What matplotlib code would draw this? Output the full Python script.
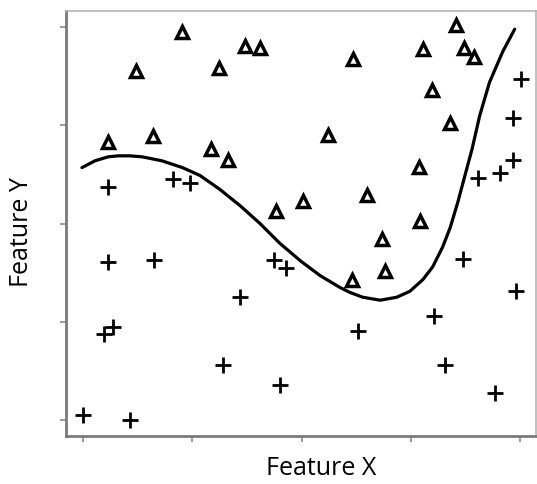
import matplotlib
matplotlib.use("Agg")
import matplotlib.pyplot as plt

# Class A (triangles)
tri_x = [0.23, 0.48, 0.64, 0.91, 1.24, 1.48, 1.62, 1.17, 1.33, 3.41, 3.11, 3.49, 3.58,
         2.47, 3.19, 3.36, 2.24, 3.07, 2.60, 2.01, 1.77, 3.08, 2.74, 2.76, 2.46]
tri_y = [2.83, 3.55, 2.89, 3.95, 3.58, 3.81, 3.79, 2.76, 2.65, 4.02, 3.78, 3.79, 3.70,
         3.68, 3.36, 3.02, 2.90, 2.58, 2.29, 2.23, 2.13, 2.03, 1.84, 1.52, 1.43]

# Class B (plus)
plus_x = [0.23, 0.82, 0.98, 4.01, 3.93, 3.93, 3.82, 3.61, 0.23, 0.65, 1.44, 0.19, 0.27,
          1.28, 0.00, 0.43, 1.75, 1.86, 3.48, 3.96, 3.21, 2.52, 3.31, 1.80, 3.77]
plus_y = [2.37, 2.45, 2.41, 3.47, 3.08, 2.65, 2.52, 2.46, 1.61, 1.63, 1.25, 0.88, 0.95,
          0.56, 0.05, 0.00, 1.63, 1.55, 1.64, 1.31, 1.06, 0.91, 0.56, 0.36, 0.27]

# Decision boundary
curve_x = [-0.01, 0.11, 0.23, 0.32, 0.43, 0.54, 0.72, 0.91, 1.07, 1.25, 1.44, 1.62, 1.80,
           1.99, 2.17, 2.35, 2.44, 2.56, 2.72, 2.87, 2.99, 3.11, 3.20, 3.29, 3.36, 3.43,
           3.49, 3.56, 3.63, 3.72, 3.84, 3.95]
curve_y = [2.57, 2.64, 2.68, 2.69, 2.69, 2.68, 2.64, 2.57, 2.49, 2.35, 2.18, 2.00, 1.80,
           1.62, 1.47, 1.35, 1.30, 1.25, 1.22, 1.25, 1.31, 1.43, 1.56, 1.76, 1.96, 2.22,
           2.47, 2.76, 3.10, 3.44, 3.75, 3.98]

ticks = [0, 1, 2, 3, 4]

fig = plt.figure(figsize=(5.37, 4.85), dpi=100)
ax = fig.add_axes([66 / 537, 1 - 437 / 485, 470 / 537, 425 / 485])

ax.plot(curve_x, curve_y, color="black", linewidth=2.3, solid_capstyle="round",
        solid_joinstyle="round", zorder=2)
ax.plot(tri_x, tri_y, linestyle="none", marker="^", markersize=8.5, markerfacecolor="white",
        markeredgecolor="black", markeredgewidth=2.5, zorder=3)
ax.plot(plus_x, plus_y, linestyle="none", marker="+", markersize=11, color="black",
        markeredgewidth=2.0, zorder=3)

ax.set_xlim(-0.156, 4.145)
ax.set_ylim(-0.163, 4.165)
ax.set_xticks(ticks)
ax.set_yticks(ticks)
ax.set_xticklabels([])
ax.set_yticklabels([])
ax.tick_params(direction="out", length=4, width=1.2, color="#8a8a8a")

for side in ["left", "bottom"]:
    ax.spines[side].set_color("#7a7a7a")
    ax.spines[side].set_linewidth(2)
for side in ["top", "right"]:
    ax.spines[side].set_color("#b5b5b5")
    ax.spines[side].set_linewidth(1.2)

ax.set_xlabel("Feature X", fontsize=18, family="Open Sans", color="black")
ax.set_ylabel("Feature Y", fontsize=18, family="Open Sans", color="black")
ax.xaxis.set_label_coords(0.543, -0.073)
ax.yaxis.set_label_coords(-0.094, 0.482)
ax.xaxis.label.set_va("center")
ax.yaxis.label.set_va("center")

fig.savefig("out.png", dpi=100)
